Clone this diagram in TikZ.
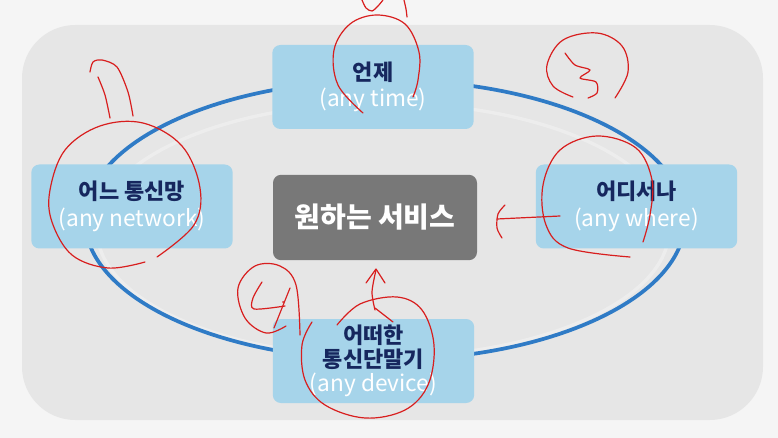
\documentclass[tikz,border=0pt]{standalone}
\usepackage{fontspec}
\usepackage{xcolor}
\newfontfamily\kr{Noto Sans CJK KR}
\definecolor{pagegrey}{HTML}{F5F5F5}
\definecolor{panelgrey}{HTML}{E6E6E6}
\definecolor{tileblue}{HTML}{A6D4EA}
\definecolor{navy}{HTML}{16275E}
\definecolor{ringblue}{HTML}{2F7BC6}
\definecolor{hubgrey}{HTML}{787878}
\definecolor{inkred}{HTML}{D81E1E}

\begin{document}
\begin{tikzpicture}[x=0.75pt,y=0.75pt,yscale=-1,xscale=1,
	tile/.style={fill=tileblue, rounded corners=6pt, minimum width=151pt, minimum height=63pt, inner sep=0pt, align=center, font=\kr\fontsize{16.5}{20}\selectfont},
	hub/.style={fill=hubgrey, rounded corners=6pt, minimum width=153pt, minimum height=64pt, inner sep=0pt, text=white, font=\kr\bfseries\fontsize{21}{24}\selectfont},
	scrawl/.style={draw=inkred, line width=0.9pt, line cap=round, line join=round}]
	% page and panel
	\fill [pagegrey] (0,0) rectangle (778,438) ;
	\useasboundingbox (0,0) rectangle (778,438) ;
	\fill [panelgrey, rounded corners=40pt] (22,25) rectangle (763,420) ;
	% ring
	\draw [white, opacity=0.3, line width=2.5pt] (383,230) ellipse (286 and 127) ;
	\draw [ringblue, line width=2.8pt] (385,220) ellipse (300 and 140) ;
	% boxes
	\node [tile] (time) at (373,87) {{\bfseries\color{navy}언제}\\{\color{white}\fontsize{17}{20}\selectfont(any time)}} ;
	\node [tile] (network) at (132,206.5) {{\bfseries\color{navy}어느 통신망}\\{\color{white}\fontsize{17}{20}\selectfont(any network)}} ;
	\node [tile] (where) at (636.5,206.5) {{\bfseries\color{navy}어디서나}\\{\color{white}\fontsize{17}{20}\selectfont(any where)}} ;
	\node [tile, font=\kr\fontsize{16.5}{18}\selectfont] (device) at (373.5,361) {{\bfseries\color{navy}어떠한}\\{\bfseries\color{navy}통신단말기}\\{\color{white}\fontsize{17}{18}\selectfont(any device)}} ;
	\node [hub] (service) at (375,217.5) {원하는 서비스} ;
	% red marks, top
	\draw [scrawl] plot [smooth, tension=0.6] coordinates {(363,113) (338,85) (334,50) (350,24) (377,15) (405,24) (419,52) (418,80) (413,97)} ;
	\draw [scrawl] plot [smooth] coordinates {(362,0) (366,8) (372,11) (378,6) (383,0)} ;
	\draw [scrawl] plot [smooth] coordinates {(404,0) (406,9) (407,17)} ;
	% red marks, left
	\draw [scrawl] plot [smooth] coordinates {(98,77) (105,95) (110,118)} ;
	\draw [scrawl] plot [smooth] coordinates {(90,72) (93,62) (102,60) (117,67) (128,92) (133,116)} ;
	\draw [scrawl] plot [smooth, tension=0.6] coordinates {(145,262) (108,268) (72,255) (52,222) (50,190) (65,150) (100,126) (143,123) (182,146) (200,188) (194,225) (157,257)} ;
	% red marks, three
	\draw [scrawl] plot [smooth, tension=0.6] coordinates {(573,97) (553,86) (547,65) (563,40) (597,33) (622,46) (628,72) (615,98)} ;
	\draw [scrawl] plot [smooth, tension=0.5] coordinates {(565,53) (575,65) (590,70) (580,78) (596,82) (597,93) (588,98)} ;
	% red marks, right
	\draw [scrawl] plot [smooth, tension=0.6] coordinates {(630,257) (568,248) (546,225) (543,185) (560,150) (597,136) (636,148) (652,180) (650,215) (643,242)} ;
	\draw [scrawl] plot [smooth] coordinates {(505,205) (498,214) (497,228) (502,238)} ;
	\draw [scrawl] (497,219) -- (560,216) ;
	% red marks, bottom
	\draw [scrawl] plot [smooth, tension=0.6] coordinates {(337,325) (360,304) (397,297) (422,310) (434,345) (428,385) (405,410) (365,418) (325,405) (305,380) (302,345) (312,322)} ;
	\draw [scrawl] plot [smooth, tension=0.6] coordinates {(286,326) (266,333) (245,318) (238,288) (255,266) (280,266) (296,285) (300,335)} ;
	\draw [scrawl] plot [smooth] coordinates {(262,282) (253,298) (254,309) (285,306)} ;
	\draw [scrawl] (290,288) -- (274,328) ;
	\fill [inkred] (283,302) circle (1) ;
	\draw [scrawl] plot [smooth] coordinates {(375,310) (372,292) (376,270)} ;
	\draw [scrawl] (366,283) -- (376,269) -- (385,283) ;
	\draw [scrawl] (375,308) -- (393,322) ;
\end{tikzpicture}
\end{document}
